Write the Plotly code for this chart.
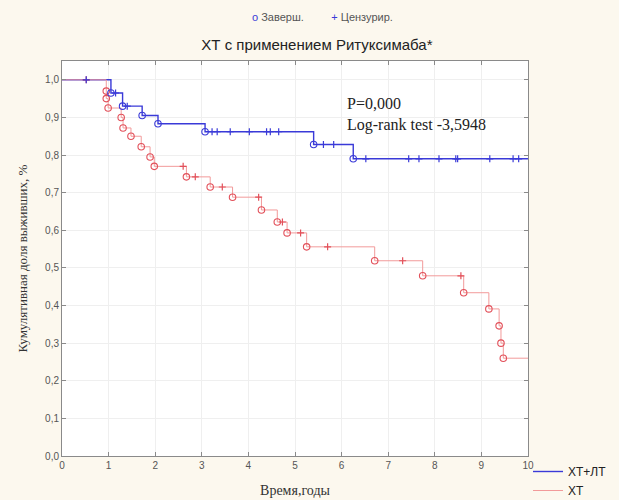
import plotly.graph_objects as go

# Kaplan-Meier estimates: event (completed) times and survival after each event
xt_lt_event_t = [1.05, 1.30, 1.72, 2.06, 3.07, 5.40, 6.25]
xt_lt_event_s = [0.965, 0.930, 0.905, 0.883, 0.862, 0.828, 0.790]
xt_lt_censor_t = [0.52, 1.15, 1.40, 3.22, 3.33, 3.61, 4.02, 4.39, 4.47, 4.65,
                  5.61, 5.83, 6.52, 7.44, 7.66, 8.09, 8.45, 8.49, 9.18, 9.68, 9.80]

xt_event_t = [0.95, 0.95, 0.99, 1.27, 1.31, 1.48, 1.70, 1.89, 1.98, 2.67, 3.18,
              3.66, 4.28, 4.62, 4.83, 5.25, 6.71, 7.74, 8.62, 9.16, 9.38, 9.42, 9.47]
xt_event_s = [0.970, 0.950, 0.925, 0.900, 0.872, 0.850, 0.822, 0.795, 0.770, 0.742,
              0.715, 0.688, 0.654, 0.622, 0.593, 0.556, 0.519, 0.479, 0.434, 0.391,
              0.346, 0.300, 0.260]
xt_censor_t = [0.52, 2.60, 2.86, 3.44, 4.22, 4.73, 5.12, 5.70, 7.31, 8.56]

x_ticks = list(range(0, 11))
y_ticks = [round(v * 0.1, 1) for v in range(0, 11)]
y_tick_text = [f"{v:.1f}".replace(".", ",") for v in y_ticks]
t_max = 10

BLUE = "#3a3ad8"
RED_LINE = "#f29a9a"
RED_MARK = "#e2505a"

# plot-area geometry in pixels (used to place paper-referenced text)
PLOT_L, PLOT_R, PLOT_T, PLOT_B = 62, 528, 61, 456


def px_to_paper(px, py):
    return ((px - PLOT_L) / (PLOT_R - PLOT_L), (PLOT_B - py) / (PLOT_B - PLOT_T))


def step_xy(ts, ss):
    xs = [0.0] + list(ts) + [t_max]
    ys = [1.0] + list(ss) + [ss[-1]]
    return xs, ys


def surv_at(t, ts, ss):
    s = 1.0
    for ti, si in zip(ts, ss):
        if ti <= t:
            s = si
    return s


fig = go.Figure()

# survival step lines (legend at the lower right)
for name, ts, ss, col, w in [("ХТ+ЛТ", xt_lt_event_t, xt_lt_event_s, BLUE, 1.4),
                             ("ХТ", xt_event_t, xt_event_s, RED_LINE, 1.0)]:
    xs, ys = step_xy(ts, ss)
    fig.add_trace(go.Scatter(x=xs, y=ys, mode="lines", line_shape="hv",
                             line=dict(color=col, width=w), name=name,
                             hoverinfo="skip"))

# event markers (open circles) and censored markers (crosses)
for ev_t, ev_s, cen_t, col in [(xt_event_t, xt_event_s, xt_censor_t, RED_MARK),
                               (xt_lt_event_t, xt_lt_event_s, xt_lt_censor_t, BLUE)]:
    fig.add_trace(go.Scatter(x=ev_t, y=ev_s, mode="markers",
                             marker=dict(symbol="circle-open", size=6.5, color=col,
                                         line=dict(width=1.1)),
                             showlegend=False))
    fig.add_trace(go.Scatter(x=cen_t, y=[surv_at(t, ev_t, ev_s) for t in cen_t],
                             mode="markers",
                             marker=dict(symbol="cross-thin-open", size=5, color=col,
                                         line=dict(width=1.2, color=col)),
                             showlegend=False))

# marker key above the title
kx, ky = px_to_paper(322, 17)
fig.add_annotation(x=kx, y=ky, xref="paper", yref="paper",
                   xanchor="center", yanchor="middle", showarrow=False,
                   text=(f'<span style="color:{BLUE}">o</span> Заверш.'
                         + "&nbsp;" * 9
                         + f'<span style="color:{BLUE}">+</span> Цензурир.'),
                   font=dict(family="Liberation Sans", size=11, color="#555"))

tx, ty = px_to_paper(345, 93)
fig.add_annotation(x=tx, y=ty, xref="paper", yref="paper",
                   xanchor="left", yanchor="top", align="left", showarrow=False,
                   text="P=0,000<br>Log-rank test -3,5948",
                   font=dict(family="Liberation Serif", size=16, color="#222"))

axis_common = dict(showline=True, linecolor="#8a8a8a", linewidth=1, mirror="ticks",
                   ticks="inside", ticklen=4, tickcolor="#8a8a8a",
                   showgrid=True, gridcolor="#efefef", gridwidth=1, zeroline=False,
                   tickfont=dict(family="Liberation Sans", size=10, color="#555"))

fig.update_xaxes(range=[0, 10], tickvals=x_ticks, ticktext=[str(v) for v in x_ticks],
                 title=dict(text="Время,годы", standoff=15,
                            font=dict(family="Liberation Serif", size=14, color="#333")),
                 **axis_common)
fig.update_yaxes(range=[0, 1.05], tickvals=y_ticks, ticktext=y_tick_text,
                 title=dict(text="Кумулятивная доля выживших, %", standoff=14,
                            font=dict(family="Liberation Serif", size=13, color="#333")),
                 **axis_common)

lx, ly = px_to_paper(PLOT_R, 457)
fig.update_layout(
    width=619, height=500,
    margin=dict(l=PLOT_L, r=619 - PLOT_R, t=PLOT_T, b=500 - PLOT_B, autoexpand=False),
    paper_bgcolor="#fcf8ee", plot_bgcolor="#ffffff",
    title=dict(text="ХТ с применением Ритуксимаба*", x=0.512, xanchor="center",
               y=1 - 45 / 500, yanchor="middle",
               font=dict(family="Liberation Sans", size=15, color="#222")),
    legend=dict(x=lx, xanchor="left", y=ly, yanchor="top",
                bgcolor="rgba(0,0,0,0)", tracegroupgap=0,
                font=dict(family="Liberation Sans", size=12, color="#222")),
    showlegend=True,
)

fig.write_html("out.html")
